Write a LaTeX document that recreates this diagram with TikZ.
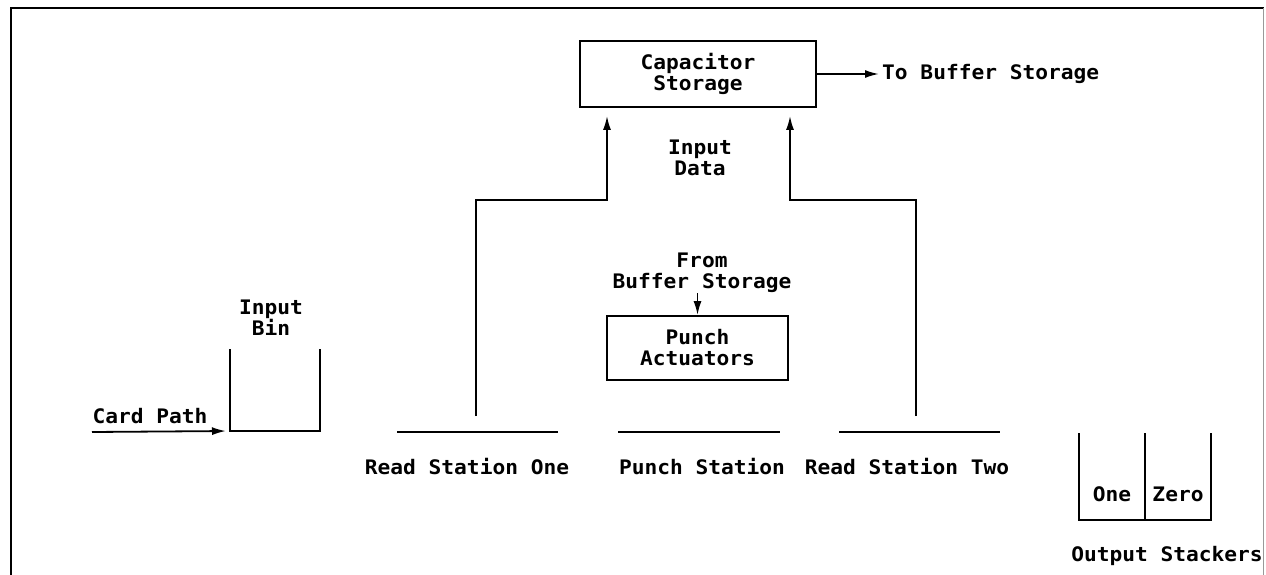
\documentclass[tikz,border=0pt]{standalone}
\usepackage{fontspec}
\newfontfamily\letterfont[FakeStretch=1.06]{DejaVu Sans Mono Bold}
\usetikzlibrary{arrows.meta,positioning}

\tikzset{
  lettering/.style={align=center,inner sep=0pt,font=\letterfont\fontsize{20}{21}\selectfont},
  block/.style={draw,line width=1.8pt,inner sep=0pt,lettering},
  wire/.style={line width=1.8pt},
  arrow/.style={wire,-{Latex[length=14pt,width=8pt]}}
}

\begin{document}
\begin{tikzpicture}[x=1pt,y=-1pt]
 \useasboundingbox (0,0) rectangle (1266,575);
 % frame
 \draw[line width=2.2pt] (11,575) -- (11,8) -- (1264,8);
 \draw[line width=0.6pt,black!40] (1263,8) -- (1263,575);
 % boxes
 \node[block,minimum width=236pt,minimum height=66pt] (cap) at (698,74) {Capacitor\\Storage};
 \node[block,minimum width=181pt,minimum height=64pt] (pa)  at (697.5,348) {Punch\\Actuators};
 % texts
 \node[lettering,anchor=west] (tobuf)   at (882,74)  {To Buffer Storage};
 \node[lettering]             (indata)  at (700,158) {Input\\Data};
 \node[lettering]             (frombuf) at (702,273) {From\\Buffer Storage};
 \node[lettering]             (inbin)   at (271,318) {Input\\Bin};
 \node[lettering]             (cardp)   at (150,416) {Card Path};
 \node[lettering]             (rs1)     at (467,467) {Read Station One};
 \node[lettering]             (ps)      at (702,467) {Punch Station};
 \node[lettering]             (rs2)     at (907,467) {Read Station Two};
 \node[lettering]             (one)     at (1112,494) {One};
 \node[lettering]             (zero)    at (1178,494) {Zero};
 \node[lettering]             (outst)   at (1167,556) {Output Stackers};
 % stations
 \coordinate (s1a) at (397,432); \coordinate (s1b) at (558,432);
 \coordinate (s2a) at (618,432); \coordinate (s2b) at (780,432);
 \coordinate (s3a) at (839,432); \coordinate (s3b) at (1000,432);
 \draw[wire] (s1a) -- (s1b);
 \draw[wire] (s2a) -- (s2b);
 \draw[wire] (s3a) -- (s3b);
 % read lines
 \coordinate (r1) at (476,416); \coordinate (j1) at (607,200);
 \coordinate (r2) at (916,416); \coordinate (j2) at (790,200);
 \draw[arrow,shorten >=8pt] (r1) |- (j1) -- (j1 |- cap.south);
 \draw[arrow,shorten >=8pt] (r2) |- (j2) -- (j2 |- cap.south);
 \draw[arrow,shorten >=3pt] (cap.east) -- (tobuf.west);
 \draw[arrow] (frombuf.south -| pa.north) -- (pa.north);
 % input bin
 \coordinate (binl) at (230,431);
 \draw[wire] (230,349) -- (binl) -- (320,431) -- (320,349);
 \coordinate (cp) at (92,432);
 \draw[arrow,shorten >=4pt] (cp) -- (binl);
 % output stackers
 \draw[wire] (1079,433) -- (1079,520) -- (1211,520) -- (1211,433);
 \draw[wire] (1145,433) -- (1145,520);
\end{tikzpicture}
\end{document}
